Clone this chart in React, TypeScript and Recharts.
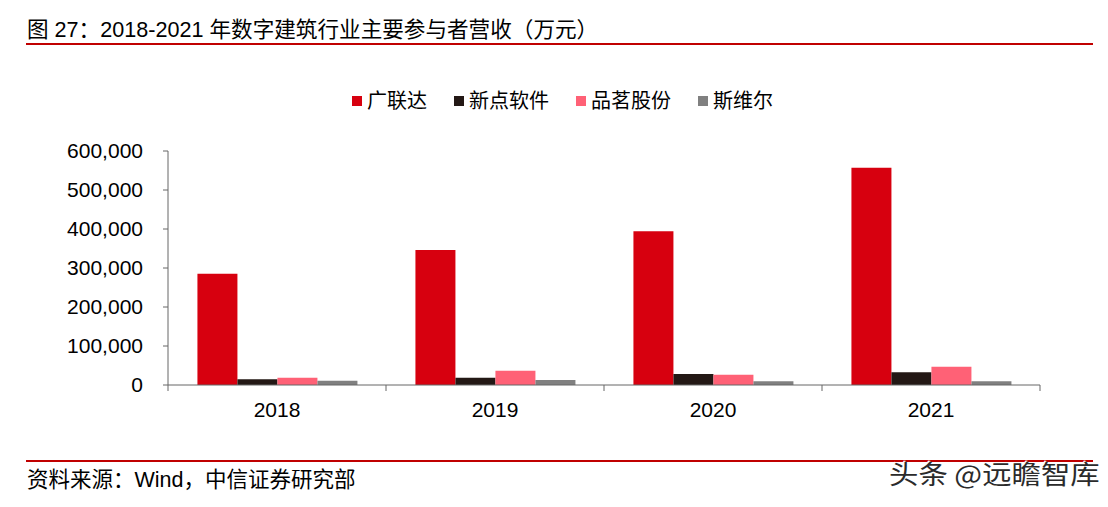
import React from "react";
import { BarChart, Bar, XAxis, YAxis } from "recharts";

const years = ["2018", "2019", "2020", "2021"];
const glodon = [285000, 346000, 394000, 557000];
const epoint = [14500, 18500, 28000, 32500];
const pinming = [18500, 36500, 26000, 47000];
const sware = [11000, 13000, 9500, 9500];
const yTicks = [0, 100000, 200000, 300000, 400000, 500000, 600000];

const seriesKeys = ["glodon", "epoint", "pinming", "sware"];
const seriesNames = ["广联达", "新点软件", "品茗股份", "斯维尔"];
const seriesColors = ["#D7000F", "#231815", "#FF6176", "#808080"];

const data = years.map((year, i) => ({
  year,
  glodon: glodon[i],
  epoint: epoint[i],
  pinming: pinming[i],
  sware: sware[i],
}));

const W = 1108;
const H = 507;
const PLOT_LEFT = 168;
const PLOT_RIGHT = 68;
const BAND = (W - PLOT_LEFT - PLOT_RIGHT) / years.length;
const FONT = '"Liberation Sans", Arial, "Noto Sans CJK SC", sans-serif';
const AXIS = "#666666";

const YearTick = (props: any) => {
  const { x, y, payload, index } = props;
  const left = x - BAND / 2;
  return (
    <g>
      <line x1={left} y1={y} x2={left} y2={y + 6} stroke={AXIS} />
      {index === years.length - 1 && (
        <line x1={x + BAND / 2} y1={y} x2={x + BAND / 2} y2={y + 6} stroke={AXIS} />
      )}
      <text x={x} y={y + 32} textAnchor="middle" fill="#000" fontSize={21} fontFamily={FONT}>
        {payload.value}
      </text>
    </g>
  );
};

export default function App() {
  return (
    <div style={{ position: "absolute", left: 0, top: 0, width: W, height: H, background: "#fff", fontFamily: FONT }}>
      <div style={{ position: "absolute", left: 27, top: 18, fontSize: 21.6, color: "#000", whiteSpace: "nowrap", lineHeight: "24px" }}>
        图 27：2018-2021 年数字建筑行业主要参与者营收（万元）
      </div>
      <div style={{ position: "absolute", left: 26, top: 43, width: 1067, height: 2, background: "#C00000" }} />

      {/* legend */}
      <div
        style={{
          position: "absolute",
          left: 352,
          top: 88,
          display: "flex",
          alignItems: "center",
          fontSize: 20,
          lineHeight: "26px",
          whiteSpace: "nowrap",
        }}
      >
        {seriesNames.map((name, i) => (
          <div key={name} style={{ display: "flex", alignItems: "center", marginRight: 27 }}>
            <span style={{ width: 10, height: 10, background: seriesColors[i], marginRight: 5, display: "inline-block" }} />
            <span style={{ color: "#000" }}>{name}</span>
          </div>
        ))}
      </div>

      <BarChart
        width={W}
        height={H}
        data={data}
        margin={{ top: 151, right: PLOT_RIGHT, bottom: 82, left: 0 }}
        barCategoryGap="13.5%"
        barGap={0}
      >
        <XAxis
          dataKey="year"
          axisLine={{ stroke: AXIS }}
          tickLine={false}
          tickSize={0}
          tickMargin={0}
          height={40}
          tick={<YearTick />}
          interval={0}
        />
        <YAxis
          width={PLOT_LEFT}
          domain={[0, 600000]}
          ticks={yTicks}
          interval={0}
          axisLine={{ stroke: AXIS }}
          tickLine={{ stroke: AXIS }}
          tickSize={5}
          tickMargin={20}
          tick={{ fill: "#000", fontSize: 21, fontFamily: FONT }}
          tickFormatter={(v: number) => v.toLocaleString("en-US")}
        />
        {seriesKeys.map((k, i) => (
          <Bar key={k} dataKey={k} name={seriesNames[i]} fill={seriesColors[i]} isAnimationActive={false} />
        ))}
      </BarChart>

      <div style={{ position: "absolute", left: 26, top: 460, width: 1067, height: 2, background: "#C00000" }} />
      <div style={{ position: "absolute", left: 27, top: 468, fontSize: 21.5, color: "#000", whiteSpace: "nowrap", lineHeight: "24px" }}>
        资料来源：Wind，中信证券研究部
      </div>
      <div
        style={{
          position: "absolute",
          left: 889,
          top: 459,
          fontSize: 26,
          color: "#2b2b2b",
          whiteSpace: "nowrap",
          lineHeight: "28px",
          fontFamily: '"Noto Sans CJK SC", sans-serif',
          transform: "scaleX(1.13)",
          transformOrigin: "left center",
          textShadow: "1px 1px 0 #fff, -1px -1px 0 #fff",
        }}
      >
        头条 @远瞻智库
      </div>
    </div>
  );
}
